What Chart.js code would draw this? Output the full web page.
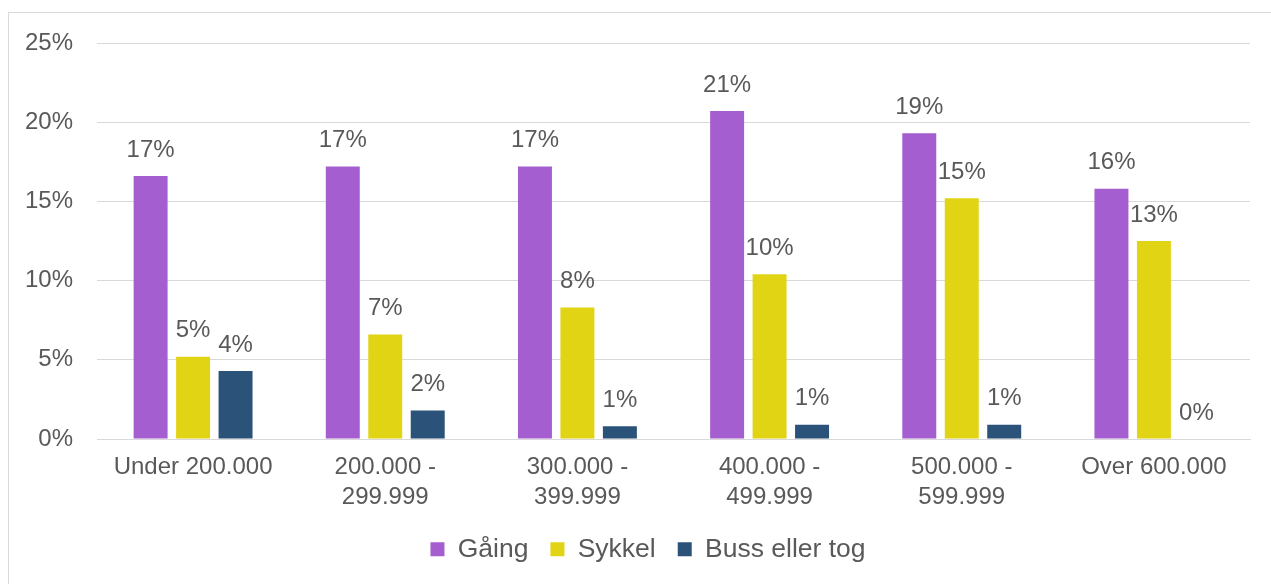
<!DOCTYPE html>
<html>
<head>
<meta charset="utf-8">
<script src="https://cdn.jsdelivr.net/npm/chart.js@4"></script>
<style>
  body { margin: 0; background: #fff; }
  #frame { position: absolute; left: 8px; top: 12px; width: 1300px; height: 600px; border: 1px solid #d9d9d9; }
  #wrap { position: absolute; left: 0; top: 0; width: 1271px; height: 584px; }
</style>
</head>
<body>
<div id="frame"></div>
<div id="wrap"><canvas id="myChart"></canvas></div>
<script>
// categories
var kategoriar = ['Under 200.000', ['200.000 -', '299.999'], ['300.000 -', '399.999'],
    ['400.000 -', '499.999'], ['500.000 -', '599.999'], 'Over 600.000'];

// series values (%)
var gaaing = [16.6, 17.2, 17.2, 20.7, 19.3, 15.8];
var sykkel = [5.2, 6.6, 8.3, 10.4, 15.2, 12.5];
var buss = [4.3, 1.8, 0.8, 0.9, 0.9, 0];

var yTicks = [0, 5, 10, 15, 20, 25];

var tekst = '#595959';
var font = "'Liberation Sans', Arial, sans-serif";

// labels over each bar
var verdiLabel = {
    id: 'verdiLabel',
    afterDatasetsDraw: function(chart) {
        var ctx = chart.ctx;
        ctx.save();
        ctx.fillStyle = tekst;
        ctx.font = '24px ' + font;
        ctx.textAlign = 'center';
        ctx.textBaseline = 'middle';
        chart.data.datasets.forEach(function(ds, i) {
            chart.getDatasetMeta(i).data.forEach(function(bar, j) {
                ctx.fillText(Math.round(ds.data[j]) + '%', bar.x, bar.y - 26);
            });
        });
        ctx.restore();
    }
};

// legend sits a bit right of centre in the original
var flyttLegend = {
    id: 'flyttLegend',
    afterLayout: function(chart) {
        chart.legend.left += 23;
        chart.legend.right += 23;
    }
};

var ctx = document.getElementById('myChart').getContext('2d');
var myChart = new Chart(ctx, {
    type: 'bar',
    data: {
        labels: kategoriar,
        datasets: [
            { label: 'Gåing', data: gaaing, backgroundColor: '#A55ECF' },
            { label: 'Sykkel', data: sykkel, backgroundColor: '#E1D415' },
            { label: 'Buss eller tog', data: buss, backgroundColor: '#2B5279' }
        ]
    },
    options: {
        responsive: true,
        maintainAspectRatio: false,
        animation: false,
        layout: { padding: { left: 0, right: 21, top: 43, bottom: 11.5 } },
        datasets: { bar: { categoryPercentage: 0.663, barPercentage: 0.8 } },
        plugins: {
            tooltip: { enabled: false },
            legend: {
                position: 'bottom',
                labels: {
                    color: tekst,
                    font: { family: font, size: 26.5 },
                    boxWidth: 14,
                    boxHeight: 14,
                    padding: 22
                }
            }
        },
        scales: {
            x: {
                grid: { display: false },
                border: { color: '#d9d9d9' },
                ticks: {
                    color: tekst,
                    font: { family: font, size: 24, lineHeight: 1.25 },
                    padding: 5,
                    maxRotation: 0,
                    autoSkip: false
                },
                afterFit: function(axis) { axis.height = 75; }
            },
            y: {
                min: 0,
                max: 25,
                afterBuildTicks: function(axis) {
                    axis.ticks = yTicks.map(function(v) { return { value: v }; });
                },
                grid: { color: '#d9d9d9', drawTicks: false },
                border: { display: false },
                ticks: {
                    color: tekst,
                    font: { family: font, size: 24 },
                    padding: 24,
                    callback: function(v) { return v + '%'; }
                },
                afterFit: function(axis) { axis.width = 97; }
            }
        }
    },
    plugins: [verdiLabel, flyttLegend]
});
</script>
</body>
</html>
